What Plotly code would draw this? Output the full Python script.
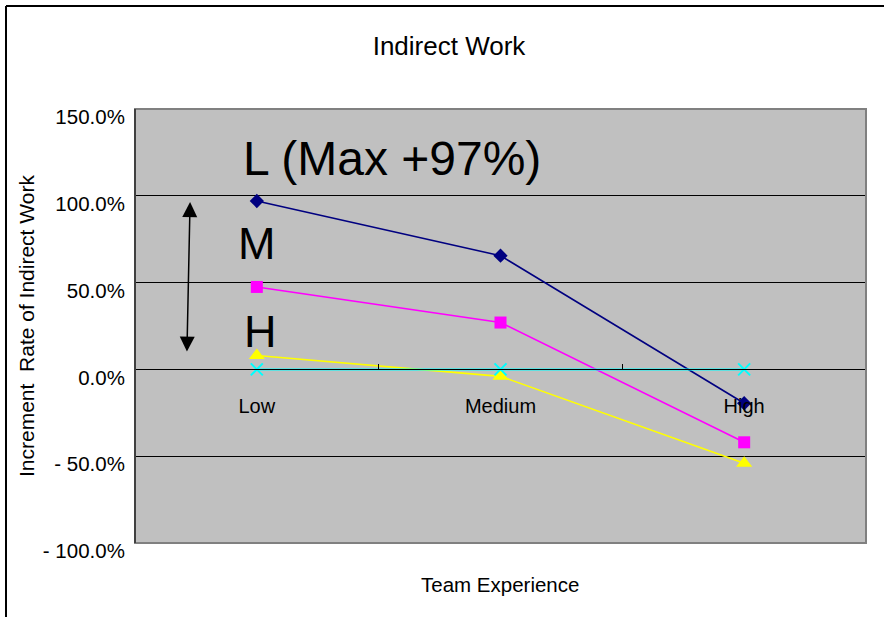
import plotly.graph_objects as go

categories = ["Low", "Medium", "High"]
series_L = [97, 65.5, -19.5]
series_M = [47.5, 27, -42]
series_H = [8, -4, -54]
series_base = [0, 0, 0]

ytick_vals = [150, 100, 50, 0, -50, -100]
ytick_text = ["150.0%", "100.0%", "50.0%", "0.0%", "- 50.0%", "- 100.0%"]

FONT = "Liberation Sans, Arial, sans-serif"

fig = go.Figure()
fig.add_trace(go.Scatter(x=categories, y=series_L, mode="lines+markers", name="L",
                         line=dict(color="#000080", width=1.6),
                         marker=dict(symbol="diamond", size=11, color="#000080")))
fig.add_trace(go.Scatter(x=categories, y=series_M, mode="lines+markers", name="M",
                         line=dict(color="#FF00FF", width=1.6),
                         marker=dict(symbol="square", size=12, color="#FF00FF")))
fig.add_trace(go.Scatter(x=categories, y=series_H, mode="lines+markers", name="H",
                         line=dict(color="#FFFF00", width=1.6),
                         marker=dict(symbol="triangle-up", size=14, color="#FFFF00")))
fig.add_trace(go.Scatter(x=categories, y=series_base, mode="lines+markers", name="Base",
                         line=dict(color="#00FFFF", width=2),
                         marker=dict(symbol="x-thin", size=12, color="#00FFFF",
                                     line=dict(color="#00FFFF", width=2))))

fig.update_layout(
    width=884, height=617,
    margin=dict(l=135, r=18, t=109, b=74),
    paper_bgcolor="white",
    plot_bgcolor="#C0C0C0",
    showlegend=False,
    font=dict(family=FONT, color="black", size=20),
    title=dict(text="Indirect Work", x=449/884, xref="container", xanchor="center",
               y=1 - 46/617, yref="container", yanchor="middle",
               font=dict(family=FONT, size=26, color="black")),
    xaxis=dict(
        type="category", range=[-0.5, 2.5],
        anchor="free", position=0.4,
        showline=True, linecolor="black", linewidth=1,
        ticks="inside", ticklen=5, tickcolor="black", tickson="boundaries",
        ticklabelstandoff=19,
        showgrid=False, zeroline=False,
        tickfont=dict(family=FONT, size=20, color="black"),
    ),
    yaxis=dict(
        range=[-100, 150], tickvals=ytick_vals, ticktext=ytick_text,
        showgrid=True, gridcolor="black", gridwidth=1,
        zeroline=False, showline=True, linecolor="black", linewidth=1,
        ticks="", ticklabelstandoff=5, ticklabelshift=8,
        tickfont=dict(family=FONT, size=20.5, color="black"),
    ),
)

# plot area frame (gray edges)
fig.add_shape(type="rect", xref="paper", yref="paper", x0=0, y0=0, x1=1, y1=1,
              line=dict(color="#808080", width=2), layer="above")
fig.add_shape(type="line", xref="paper", yref="paper", x0=0, y0=0, x1=0, y1=1,
              line=dict(color="black", width=1), layer="above")
# outer chart border (top and left)
fig.add_shape(type="line", xref="paper", yref="paper", x0=(6-135)/731, x1=1.05,
              y0=(543-6)/434, y1=(543-6)/434, line=dict(color="black", width=2))
fig.add_shape(type="line", xref="paper", yref="paper", x0=(6-135)/731, x1=(6-135)/731,
              y0=(543-6)/434, y1=-0.2, line=dict(color="black", width=2))

# axis titles
fig.add_annotation(text="Increment  Rate of Indirect Work", xref="paper", yref="paper",
                   x=(26-135)/731, y=0.5, textangle=-90, showarrow=False,
                   xanchor="center", yanchor="middle", font=dict(family=FONT, size=21))
fig.add_annotation(text="Team Experience", xref="paper", yref="paper",
                   x=(500-135)/731, y=(543-584)/434, showarrow=False,
                   xanchor="center", yanchor="middle", font=dict(family=FONT, size=20.5))

# labels inside plot
fig.add_annotation(text="L (Max +97%)", x=0.555, y=121.5, xref="x", yref="y",
                   showarrow=False, font=dict(family=FONT, size=48, color="black"))
fig.add_annotation(text="M", x=0.0, y=72.8, xref="x", yref="y",
                   showarrow=False, font=dict(family=FONT, size=45, color="black"))
fig.add_annotation(text="H", x=0.013, y=22.1, xref="x", yref="y",
                   showarrow=False, font=dict(family=FONT, size=45, color="black"))

# double-headed arrow
fig.add_annotation(x=-0.274, y=96.4, ax=-0.287, ay=9.4, xref="x", yref="y",
                   axref="x", ayref="y", text="", showarrow=True,
                   arrowside="end+start", arrowhead=2, startarrowhead=2,
                   arrowsize=2, startarrowsize=2, arrowwidth=1.5, arrowcolor="black",
                   standoff=0, startstandoff=0)

fig.write_html("out.html", config={"displayModeBar": False},
               post_script="document.body.style.margin='0';")
